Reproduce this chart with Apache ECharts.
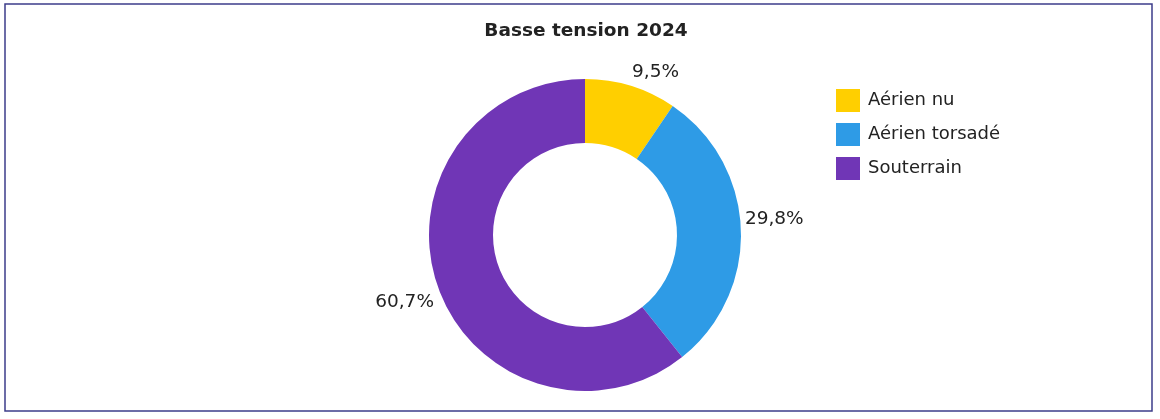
<!DOCTYPE html>
<html><head><meta charset="utf-8">
<script src="https://cdn.jsdelivr.net/npm/echarts@6/dist/echarts.min.js"></script>
<style>html,body{margin:0;padding:0;background:#fff}#c{width:1160px;height:419px}</style>
</head><body><div id="c"></div>
<script>
const categories = ['Aérien nu', 'Aérien torsadé', 'Souterrain'];
const values = [9.5, 29.8, 60.7];
const colors = ['#FFCF00', '#2E9BE6', '#7036B6'];
const chart = echarts.init(document.getElementById('c'));
chart.setOption({
  animation: false,
  title: { text: 'Basse tension 2024', left: 581, top: 17, textAlign: 'center',
    textStyle: { fontFamily: 'DejaVu Sans', fontSize: 18.5, fontWeight: 'bold', color: '#222' } },
  legend: { orient: 'vertical', left: 836, top: 89, padding: 0, itemWidth: 24, itemHeight: 23, itemGap: 11,
    icon: 'rect', textStyle: { fontFamily: 'DejaVu Sans', fontSize: 18, color: '#222', padding: [0, 0, 0, 3] },
    data: categories },
  graphic: [{ type: 'rect', shape: { x: 5, y: 4, width: 1147, height: 407 },
    style: { fill: 'none', stroke: '#3d3d8a', lineWidth: 1.5 }, silent: true }],
  series: [{
    type: 'pie', center: [585, 235], radius: [92, 156], startAngle: 90, clockwise: true,
    avoidLabelOverlap: false,
    label: { show: true, position: 'outside', fontFamily: 'DejaVu Sans', fontSize: 18.5, color: '#222',
      formatter: p => p.value.toFixed(1).replace('.', ',') + '%' },
    labelLine: { show: true, length: 4, length2: 0, lineStyle: { opacity: 0 } },
    labelLayout: function (p) {
      const pts = p.labelLinePoints;
      if (!pts || pts.length < 2) return {};
      const a = pts[0], b = pts[1];
      const up = b[1] < a[1];
      return { x: b[0], y: b[1] + (up ? 0 : 5), align: b[0] >= a[0] ? 'left' : 'right',
        verticalAlign: up ? 'bottom' : 'top' };
    },
    data: categories.map((n, i) => ({ name: n, value: values[i], itemStyle: { color: colors[i] } }))
  }]
});
</script></body></html>
